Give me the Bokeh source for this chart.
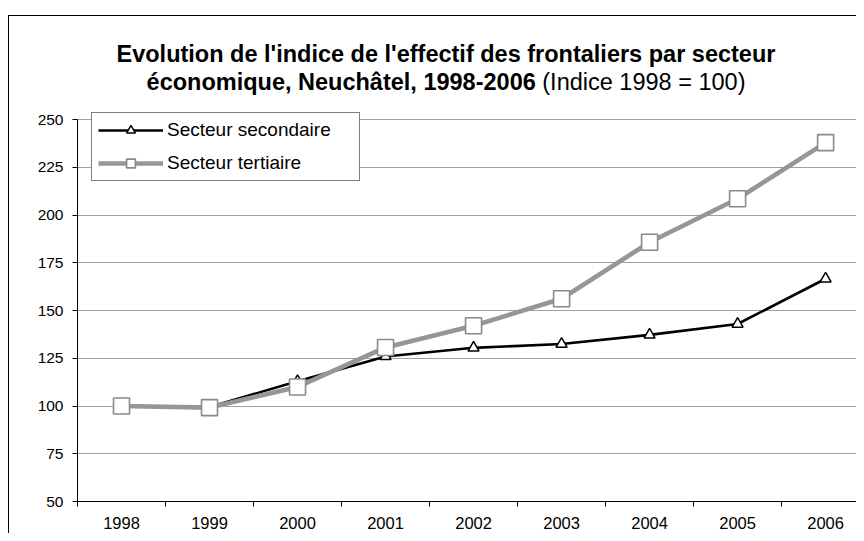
from bokeh.plotting import figure
from bokeh.models import Label, Legend, LegendItem, FixedTicker, Range1d, ColumnDataSource
from bokeh.embed import file_html
from bokeh.resources import INLINE

# ---- data ----
years = [1998, 1999, 2000, 2001, 2002, 2003, 2004, 2005, 2006]
secondaire = [100, 99.5, 113, 126, 130.5, 132.5, 137.3, 143, 166.7]
tertiaire = [100, 99.2, 110, 130.7, 142.1, 156.2, 185.8, 208.6, 238]
y_ticks = [50, 75, 100, 125, 150, 175, 200, 225, 250]
series_names = ["Secteur secondaire", "Secteur tertiaire"]
title_line1 = "Evolution de l'indice de l'effectif des frontaliers par secteur"
title_line2_bold = "économique, Neuchâtel, 1998-2006"
title_line2_regular = "(Indice 1998 = 100)"

FONT = "Liberation Sans"

src = ColumnDataSource(data=dict(year=years, sec=secondaire, ter=tertiaire))

# layout (pixels). The frame reaches the top of the canvas so that the title and
# the legend (which sit above the 250 gridline) are not clipped.
frame_left, frame_w = 68, 779
axis_h = 381            # height of the 50..250 span
top_space = 103         # pixels between canvas top and the 250 gridline
cat_w = 87.9
x_start = years[0] - 0.5
x_end = x_start + frame_w / cat_w
y_px = axis_h / (y_ticks[-1] - y_ticks[0])
y_end = y_ticks[-1] + top_space / y_px


def dx(px):  # horizontal pixel offset from frame left -> data x
    return x_start + px / cat_w


def dy(px):  # pixels above the top gridline -> data y
    return y_ticks[-1] + px / y_px


p = figure(width=848, height=518, output_backend="svg", toolbar_location=None,
           x_range=Range1d(x_start, x_end), y_range=Range1d(y_ticks[0], y_end),
           min_border_left=frame_left, min_border_top=0, min_border_bottom=33, min_border_right=0)
p.styles = {"margin": "15px 0px 0px 8px", "border-left": "1px solid #000", "border-top": "1px solid #000"}
p.outline_line_color = None
p.background_fill_color = "white"
p.border_fill_color = "white"

# axes
p.xaxis.ticker = FixedTicker(ticks=years, minor_ticks=[y - 0.5 for y in years] + [years[-1] + 0.5])
p.xaxis.major_tick_line_color = None
p.xaxis.major_tick_out = 0
p.xaxis.major_tick_in = 0
p.xaxis.minor_tick_out = 5
p.xaxis.minor_tick_in = 0
p.xaxis.minor_tick_line_color = "black"
p.xaxis.axis_line_color = "black"
p.xaxis.major_label_text_font = FONT
p.xaxis.major_label_text_font_size = "16.5px"
p.xaxis.major_label_text_color = "black"
p.xaxis.major_label_standoff = 10

p.yaxis.ticker = FixedTicker(ticks=y_ticks, minor_ticks=[])
p.yaxis.bounds = (y_ticks[0], y_ticks[-1])
p.yaxis.major_tick_out = 5
p.yaxis.major_tick_in = 0
p.yaxis.minor_tick_line_color = None
p.yaxis.axis_line_color = "black"
p.yaxis.major_label_text_font = FONT
p.yaxis.major_label_text_font_size = "15.5px"
p.yaxis.major_label_text_color = "black"
p.yaxis.major_label_standoff = 9

p.xgrid.grid_line_color = None
p.ygrid.grid_line_color = "#a0a0a0"
p.ygrid.grid_line_width = 1

# series
l1 = p.line("year", "sec", source=src, line_color="black", line_width=2.6)
m1 = p.scatter("year", "sec", source=src, marker="triangle", size=11,
               fill_color="white", line_color="black", line_width=1.5)
l2 = p.line("year", "ter", source=src, line_color="#969696", line_width=4.6)
m2 = p.scatter("year", "ter", source=src, marker="square", size=16,
               fill_color="white", line_color="#8a8a8a", line_width=1.6)

legend = Legend(items=[LegendItem(label=series_names[0], renderers=[l1, m1]),
                       LegendItem(label=series_names[1], renderers=[l2, m2])],
                location=(14, 320), orientation="vertical",
                label_text_font=FONT, label_text_font_size="19px", label_text_color="black",
                glyph_width=65, glyph_height=22, label_height=22, label_width=186,
                spacing=11, padding=6, label_standoff=4, margin=0,
                border_line_color="black", border_line_width=1,
                background_fill_color="white", background_fill_alpha=1)
p.add_layout(legend, "center")

# title (two lines, second line mixes bold and regular)
common = dict(x_units="data", y_units="data", text_font=FONT, text_font_size="23.5px",
              text_baseline="alphabetic", text_color="black")
p.add_layout(Label(x=dx(368), y=dy(65.5), text=title_line1, text_font_style="bold",
                   text_align="center", **common))
p.add_layout(Label(x=dx(457.7), y=dy(37.5), text=title_line2_bold, text_font_style="bold",
                   text_align="right", **common))
p.add_layout(Label(x=dx(464.2), y=dy(37.5), text=title_line2_regular, text_font_style="normal",
                   text_align="left", **common))

open("out.html", "w").write(file_html(p, INLINE))
